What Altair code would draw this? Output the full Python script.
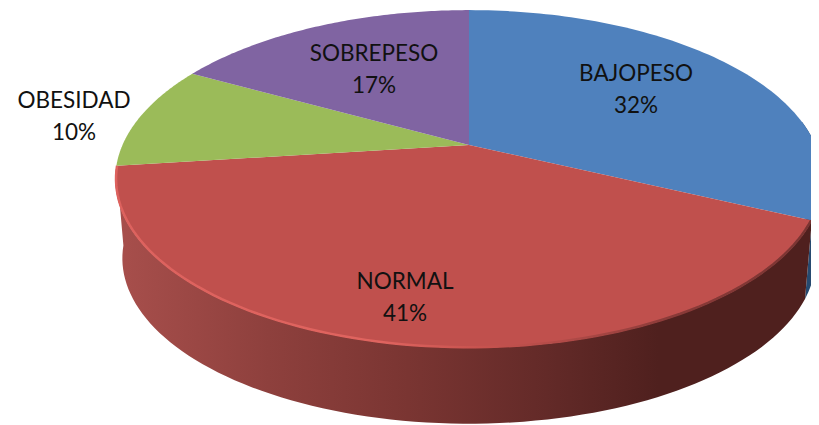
import math
import altair as alt
import pandas as pd

CATEGORIES = ["BAJOPESO", "NORMAL", "OBESIDAD", "SOBREPESO"]
PERCENTS = [32, 41, 10, 17]
COLORS = ["#4F81BD", "#C0504D", "#9BBB59", "#8064A2"]
LABEL_X = [636, 405, 74, 374]
LABEL_Y = [74, 282, 101, 54]

# perspective model of the pie disc (pixels of the 819x425 picture)
CX, CY, A, B, K = 469, 145, 346.5, 162, 0.201
SHIFT, SCALE = 80, 0.98
W, H = 803, 417


def project(theta, r=1.0, lower=False):
    s, c = math.sin(theta), math.cos(theta)
    d = 1 + K * r * c
    x, y = A * r * s / d, -B * r * c / d
    if lower:
        return CX + SCALE * x, CY + SHIFT + SCALE * y
    return CX + x, CY + y


def angles(start, end, n=90):
    return [start + (end - start) * i / n for i in range(n + 1)]


def frame(points):
    return pd.DataFrame({"x": [p[0] for p in points], "y": [p[1] for p in points], "o": range(len(points))})


X = alt.X("x:Q", scale=alt.Scale(domain=[8, 8 + W]), axis=None)
Y = alt.Y("y:Q", scale=alt.Scale(domain=[8 + H, 8]), axis=None)


def shape(points, fill):
    return alt.Chart(frame(points)).mark_line(fill=fill, stroke=None, strokeWidth=0, clip=True, interpolate="linear").encode(
        x=X, y=Y, order="o:Q"
    )


edges = [0.0]
for p in PERCENTS:
    edges.append(edges[-1] + p / sum(PERCENTS) * 2 * math.pi)

tilt = math.pi - math.acos(K)  # right-hand silhouette of the disc

wall_red = [project(t) for t in angles(edges[1], edges[2])] + [
    project(t, lower=True) for t in reversed(angles(edges[1], edges[2]))
]
wall_blue = [project(t) for t in angles(tilt - 0.35, edges[1], 30)] + [
    project(t, lower=True) for t in reversed(angles(tilt - 0.35, edges[1], 30))
]
red_fill = alt.Gradient(
    gradient="linear", x1=0, x2=1, y1=0, y2=0,
    stops=[
        alt.GradientStop(color="#A84F4C", offset=0),
        alt.GradientStop(color="#8E403D", offset=0.22),
        alt.GradientStop(color="#7A3532", offset=0.42),
        alt.GradientStop(color="#632A28", offset=0.62),
        alt.GradientStop(color="#4F201E", offset=0.78),
        alt.GradientStop(color="#4F201E", offset=1),
    ],
)

layers = [shape(wall_blue, "#264A70"), shape(wall_red, red_fill)]

for i, col in enumerate(COLORS):
    pts = [(CX, CY)] + [project(t) for t in angles(edges[i], edges[i + 1])]
    layers.append(shape(pts, col))

rim_stroke = alt.Gradient(
    gradient="linear", x1=0, x2=1, y1=0, y2=0,
    stops=[
        alt.GradientStop(color="#DD625E", offset=0),
        alt.GradientStop(color="#E0645F", offset=0.38),
        alt.GradientStop(color="#C8534F", offset=0.52),
        alt.GradientStop(color="#B04A47", offset=0.65),
        alt.GradientStop(color="#8A3A38", offset=0.8),
        alt.GradientStop(color="#7A3432", offset=1),
    ],
)
rim = alt.Chart(frame([project(t, 0.998) for t in angles(edges[1], edges[2])])).mark_line(
    stroke=rim_stroke, strokeWidth=2.5, clip=True
).encode(x=X, y=Y, order="o:Q")
layers.append(rim)

labels = pd.DataFrame({
    "label": [f"{c}\n{p}%" for c, p in zip(CATEGORIES, PERCENTS)],
    "x": LABEL_X,
    "y": LABEL_Y,
})
layers.append(
    alt.Chart(labels).mark_text(
        font="Lato", fontSize=22.5, color="#111111", lineBreak="\n", lineHeight=32, align="center", baseline="middle"
    ).encode(x=X, y=Y, text="label:N")
)

chart = alt.layer(*layers).properties(
    width=W, height=H, padding=0, background="white", autosize=alt.AutoSizeParams(type="none")
).configure_view(strokeWidth=0)

chart.save("out.html", embed_options={"renderer": "svg", "actions": False})
